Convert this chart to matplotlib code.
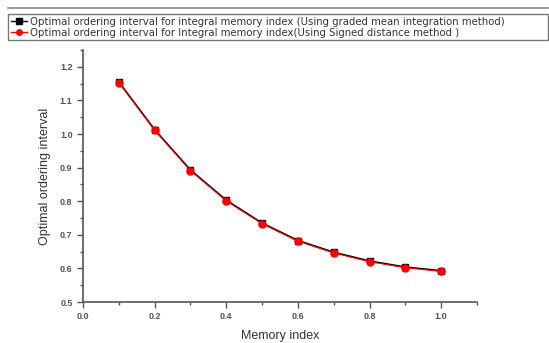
import matplotlib.pyplot as plt
from matplotlib.ticker import MultipleLocator
from matplotlib.lines import Line2D

# data
memory_index = [0.1, 0.2, 0.3, 0.4, 0.5, 0.6, 0.7, 0.8, 0.9, 1.0]
graded_mean = [1.155, 1.013, 0.893, 0.803, 0.735, 0.683, 0.648, 0.622, 0.604, 0.593]
signed_dist = [1.153, 1.011, 0.891, 0.801, 0.733, 0.681, 0.646, 0.620, 0.602, 0.591]

label1 = "Optimal ordering interval for integral memory index (Using graded mean integration method)"
label2 = "Optimal ordering interval for Integral memory index(Using Signed distance method )"

plt.rcParams['font.family'] = ['Liberation Sans', 'DejaVu Sans']

fig = plt.figure(figsize=(5.49, 3.43), dpi=100)
ax = fig.add_axes([83 / 549, 1 - 302 / 343, (477 - 83) / 549, (302 - 50) / 343])

ax.plot(memory_index, graded_mean, color='black', marker='s', markersize=5, linewidth=1.2)
ax.plot(memory_index, signed_dist, color='red', marker='o', markersize=5, linewidth=0.8)

ax.set_xlim(0.0, 1.1)
ax.set_ylim(0.5, 1.25)
ax.xaxis.set_minor_locator(MultipleLocator(0.1))
ax.yaxis.set_minor_locator(MultipleLocator(0.05))
ax.set_xticks([0.0, 0.2, 0.4, 0.6, 0.8, 1.0])
ax.set_xticklabels(['0.0', '0.2', '0.4', '0.6', '0.8', '1.0'])
ax.set_yticks([0.5, 0.6, 0.7, 0.8, 0.9, 1.0, 1.1, 1.2])
ax.set_yticklabels(['0.5', '0.6', '0.7', '0.8', '0.9', '1.0', '1.1', '1.2'])

for s in ['top', 'right']:
    ax.spines[s].set_visible(False)
for s in ['left', 'bottom']:
    ax.spines[s].set_color('#555555')
    ax.spines[s].set_linewidth(1.2)

ax.tick_params(which='major', direction='out', length=4, width=1, color='#555555',
               labelsize=6.5, labelcolor='#555555')
ax.tick_params(which='minor', direction='out', length=2.5, width=1, color='#555555')
for t in ax.get_xticklabels() + ax.get_yticklabels():
    t.set_fontweight('bold')

ax.set_xlabel("Memory index", fontsize=9, color='#333333', labelpad=6)
ax.set_ylabel("Optimal ordering interval", fontsize=9, color='#333333', labelpad=6)

# legend box at the top
handles = [
    Line2D([], [], color='black', marker='s', markersize=4, linewidth=1),
    Line2D([], [], color='red', marker='o', markersize=4, linewidth=1),
]
leg = fig.legend(handles, [label1, label2], loc='upper left',
                 bbox_to_anchor=(8 / 549, 1 - 45 / 343, 540 / 549, 31 / 343),
                 mode='expand', prop={'family': 'DejaVu Sans', 'size': 7.3},
                 frameon=True, fancybox=False,
                 handlelength=1.6, handletextpad=0.3, borderpad=0.25, labelspacing=0.1,
                 borderaxespad=0)
leg.get_frame().set_edgecolor('#555555')
leg.get_frame().set_linewidth(1.0)
for t in leg.get_texts():
    t.set_color('#333333')

# thin grey line along the very top
fig.add_artist(Line2D([8 / 549, 1.0], [1 - 8 / 343, 1 - 8 / 343], color='#888888', linewidth=1.2))

plt.savefig("out.png", dpi=100)
